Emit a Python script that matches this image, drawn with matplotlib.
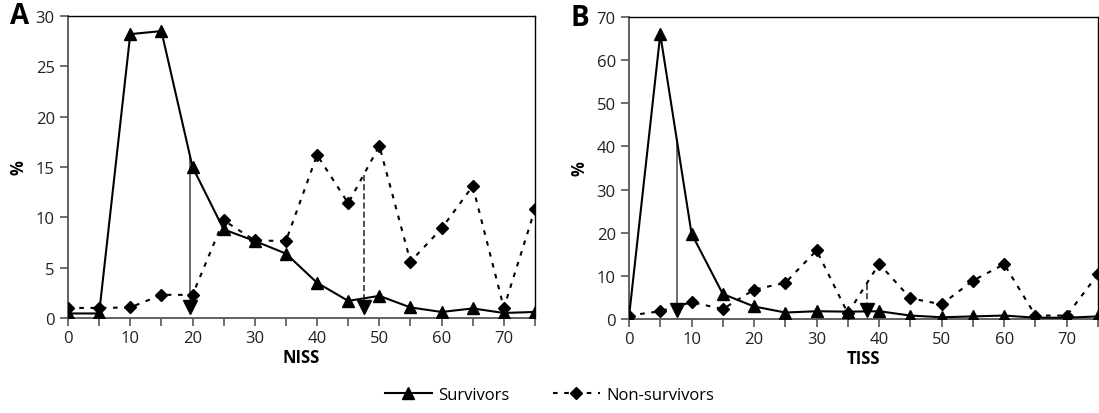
"""
Survivors vs non-survivors distribution by NISS and TISS.
"""

import matplotlib.pyplot as plt
from matplotlib.lines import Line2D

plt.rcParams["font.family"] = ["Open Sans", "DejaVu Sans"]

score = [0, 5, 10, 15, 20, 25, 30, 35, 40, 45, 50, 55, 60, 65, 70, 75]

niss_surv = [0.45, 0.45, 28.2, 28.5, 15.0, 8.8, 7.65, 6.4, 3.5, 1.7, 2.2, 1.05, 0.6, 0.95, 0.5, 0.6]
niss_non = [1.0, 1.0, 1.05, 2.3, 2.3, 9.7, 7.7, 7.65, 16.2, 11.4, 17.1, 5.6, 8.9, 13.1, 1.0, 10.8]
niss_median_surv = 19.6
niss_median_non = 47.5

tiss_surv = [0.5, 66.0, 19.8, 5.8, 2.9, 1.5, 1.8, 1.7, 1.8, 0.8, 0.4, 0.6, 0.8, 0.3, 0.3, 0.6]
tiss_non = [0.8, 1.8, 3.9, 2.3, 6.8, 8.4, 15.9, 1.3, 12.8, 4.8, 3.4, 8.9, 12.7, 0.8, 0.8, 10.4]
tiss_median_surv = 7.65
tiss_median_non = 38.0

DOT = (0, (2.2, 3.2))


def interp(xs, ys, x):
    for i in range(len(xs) - 1):
        if xs[i] <= x <= xs[i + 1]:
            t = (x - xs[i]) / (xs[i + 1] - xs[i])
            return ys[i] + t * (ys[i + 1] - ys[i])
    return ys[-1]


def draw_panel(ax, surv, non, med_s, med_n, ymax, ystep, xlabel, letter, arrow_y):
    top_s = interp(score, surv, med_s)
    top_n = interp(score, non, med_n)
    ax.plot([med_s, med_s], [top_s, arrow_y], color="#444444", lw=1.1, zorder=2)
    ax.plot([med_n, med_n], [top_n, arrow_y], color="#222222", lw=1.1,
            linestyle=(0, (4, 2)), zorder=2)
    ax.plot([med_s, med_n], [arrow_y, arrow_y], linestyle="none", marker="v",
            ms=10, color="black", zorder=4)

    ax.plot(score, non, color="black", lw=1.5, linestyle=DOT, marker="D", ms=6, zorder=3)
    ax.plot(score, surv, color="black", lw=1.5, marker="^", ms=8, zorder=3)

    ax.set_xlim(0, 75)
    ax.set_ylim(0, ymax)
    ax.set_xticks(range(0, 76, 5))
    ax.set_xticklabels([str(v) if v % 10 == 0 and v < 75 else "" for v in range(0, 76, 5)])
    ax.set_yticks(range(0, ymax + 1, ystep))
    ax.tick_params(axis="both", direction="out", length=6, width=1.2, labelsize=12,
                   colors="#555555", labelcolor="#222222")
    ax.tick_params(axis="x", pad=3)
    for side in ["left", "bottom"]:
        ax.spines[side].set_color("#555555")
        ax.spines[side].set_linewidth(1.3)
    for side in ["top", "right"]:
        ax.spines[side].set_color("black")
        ax.spines[side].set_linewidth(1.0)
    ax.set_xlabel(xlabel, fontsize=12, fontweight="bold", labelpad=1)
    ax.set_ylabel("%", fontsize=12, fontweight="bold", labelpad=6)
    ax.text(-0.125, 1.0, letter, transform=ax.transAxes, fontsize=20, fontweight="bold",
            ha="left", va="center")


fig = plt.figure(figsize=(10.99, 4.14), dpi=100)
W, H = 1099, 414
ax_a = fig.add_axes([68 / W, 1 - 319 / H, (535 - 68) / W, (319 - 17) / H])
ax_b = fig.add_axes([629 / W, 1 - 320 / H, (1098 - 629) / W, (320 - 18) / H])

draw_panel(ax_a, niss_surv, niss_non, niss_median_surv, niss_median_non, 30, 5, "NISS", "A", 1.1)
draw_panel(ax_b, tiss_surv, tiss_non, tiss_median_surv, tiss_median_non, 70, 10, "TISS", "B", 2.2)

handles = [
    Line2D([], [], color="black", lw=1.5, marker="^", ms=8),
    Line2D([], [], color="black", lw=1.5, linestyle=DOT, marker="D", ms=6),
]
fig.legend(handles, ["Survivors", "Non-survivors"], loc="center", bbox_to_anchor=(0.5, 1 - 396 / H),
           ncol=2, frameon=False, fontsize=12, handlelength=2.8, handletextpad=0.4,
           columnspacing=2.6)

fig.savefig("out.png", dpi=100)
